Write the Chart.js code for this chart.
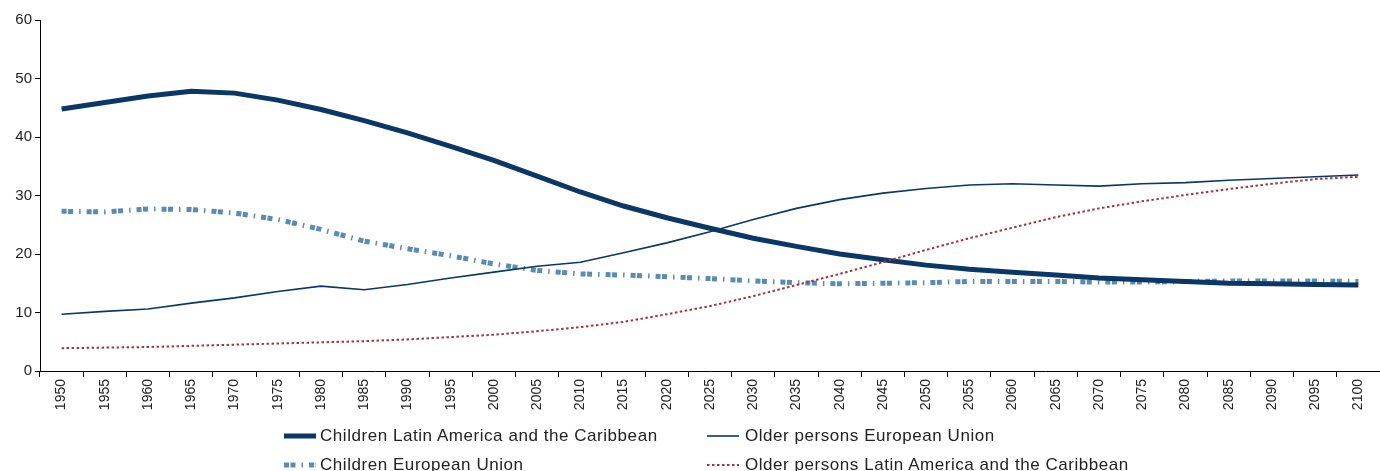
<!DOCTYPE html>
<html>
<head>
<meta charset="utf-8">
<script src="https://cdn.jsdelivr.net/npm/chart.js@4/dist/chart.umd.min.js"></script>
<style>
  html, body { margin: 0; padding: 0; background: #fff; }
  #wrap { position: relative; width: 1380px; height: 471px; overflow: hidden; }
  #c { position: absolute; left: 0; top: 0; }
  .sw { position: absolute; }
  .lt { position: absolute; font-family: "Liberation Sans", Arial, sans-serif; font-size: 17px; letter-spacing: 0.55px; color: #222; white-space: nowrap; line-height: 20px; }
</style>
</head>
<body>
<div id="wrap">
  <canvas id="c" width="1380" height="471"></canvas>
  <div id="legend"></div>
</div>
<script>
const years = ["1950","1955","1960","1965","1970","1975","1980","1985","1990","1995","2000","2005","2010","2015","2020","2025","2030","2035","2040","2045","2050","2055","2060","2065","2070","2075","2080","2085","2090","2095","2100"];
const childrenLAC = [44.8,45.9,47.0,47.8,47.5,46.3,44.7,42.8,40.7,38.4,36.0,33.3,30.6,28.2,26.2,24.4,22.7,21.3,20.0,19.0,18.1,17.4,16.9,16.4,15.9,15.6,15.3,15.0,14.9,14.8,14.7];
const olderEU = [9.7,10.2,10.6,11.6,12.5,13.6,14.5,13.9,14.8,15.9,16.9,17.9,18.6,20.2,21.9,23.8,25.9,27.8,29.3,30.4,31.2,31.8,32.0,31.8,31.6,32.0,32.2,32.6,32.9,33.2,33.5];
const childrenEU = [27.3,27.2,27.7,27.6,27.0,25.9,24.2,22.2,20.9,19.7,18.3,17.2,16.6,16.4,16.1,15.8,15.4,15.1,14.9,15.0,15.1,15.3,15.3,15.3,15.2,15.2,15.3,15.4,15.4,15.4,15.3];
const olderLAC = [3.9,4.0,4.1,4.3,4.5,4.7,4.9,5.1,5.4,5.8,6.2,6.8,7.5,8.4,9.7,11.1,12.8,14.7,16.6,18.6,20.7,22.7,24.5,26.3,27.8,29.0,30.1,31.1,32.0,32.8,33.2];
const seriesNames = ["Children Latin America and the Caribbean","Older persons European Union","Children European Union","Older persons Latin America and the Caribbean"];
const yTicks = [0,10,20,30,40,50,60];

const NAVY = '#0a3766', STEEL = '#5a8bb2', RED = '#a3343f';
const styles = [
  {color: NAVY, width: 5, dash: []},
  {color: NAVY, width: 1.6, dash: []},
  {color: STEEL, width: 5, dash: [5,1.5,5,6,1.5,6]},
  {color: RED, width: 2, dash: [2.5,2.5]}
];
const values = [childrenLAC, olderEU, childrenEU, olderLAC];

const datasets = values.map((v,i) => ({
  label: seriesNames[i],
  data: v,
  borderColor: styles[i].color,
  backgroundColor: styles[i].color,
  borderWidth: styles[i].width,
  borderDash: styles[i].dash,
  borderCapStyle: 'butt',
  pointRadius: 0,
  tension: 0,
  fill: false
}));
const order = [2,0,3,1];
order.forEach((idx, k) => datasets[idx].order = 4 - k);

const xFont = {family: '"Liberation Sans", Arial, sans-serif', size: 14};
const yFont = {family: '"Liberation Sans", Arial, sans-serif', size: 15};
new Chart(document.getElementById('c'), {
  type: 'line',
  data: {labels: years, datasets},
  options: {
    responsive: false,
    animation: false,
    events: [],
    layout: {padding: {top: 20, right: 0, bottom: 60, left: 0}},
    plugins: {legend: {display: false}, tooltip: {enabled: false}},
    scales: {
      x: {
        type: 'category',
        offset: true,
        grid: {offset: true, drawOnChartArea: false, drawTicks: true, tickLength: 6, color: '#000', lineWidth: 1},
        border: {display: true, color: '#000', width: 1},
        ticks: {autoSkip: false, maxRotation: 90, minRotation: 90, color: '#222', font: xFont, padding: 2},
        afterFit: s => { s.height = 40; }
      },
      y: {
        min: 0, max: 60,
        afterBuildTicks: s => { s.ticks = yTicks.map(v => ({value: v})); },
        grid: {drawOnChartArea: false, drawTicks: true, tickLength: 5, color: '#000', lineWidth: 1},
        border: {display: true, color: '#000', width: 1},
        ticks: {color: '#222', font: yFont, padding: 3},
        afterFit: s => { s.width = 40; }
      }
    }
  }
});

// HTML legend (2 columns x 2 rows)
const legPos = [
  {sx: 284, tx: 320, y: 436}, {sx: 707, tx: 745, y: 436},
  {sx: 284, tx: 320, y: 465}, {sx: 707, tx: 745, y: 465}
];
const leg = document.getElementById('legend');
seriesNames.forEach((name, i) => {
  const st = styles[i], p = legPos[i];
  const sw = document.createElementNS('http://www.w3.org/2000/svg', 'svg');
  sw.setAttribute('class', 'sw');
  sw.setAttribute('width', '32'); sw.setAttribute('height', '10');
  sw.style.left = p.sx + 'px'; sw.style.top = (p.y - 5) + 'px';
  const dash = st.dash.length ? `stroke-dasharray="${st.dash.join(' ')}"` : '';
  sw.innerHTML = `<line x1="0" y1="5" x2="32" y2="5" stroke="${st.color}" stroke-width="${st.width}" ${dash}/>`;
  leg.appendChild(sw);
  const t = document.createElement('div');
  t.className = 'lt';
  t.style.left = p.tx + 'px';
  t.style.top = (p.y - 10) + 'px';
  t.textContent = name;
  leg.appendChild(t);
});
</script>
</body>
</html>
